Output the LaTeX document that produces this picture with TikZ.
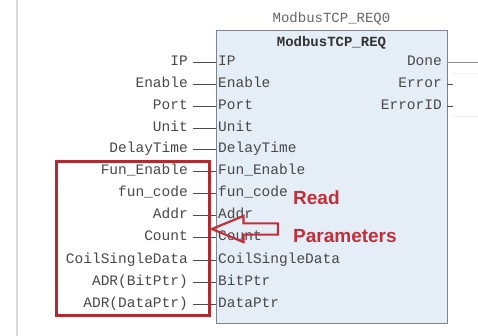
\documentclass[tikz,border=0pt]{standalone}
\usepackage{fontspec}
\setmainfont{Liberation Sans}
\setsansfont{Liberation Sans}
\setmonofont{Liberation Mono}
\usepackage{tikz}
\usetikzlibrary{arrows.meta,calc,positioning,shapes.arrows}
\definecolor{blockfill}{HTML}{E5EDF7}
\definecolor{blockline}{HTML}{7D838B}
\definecolor{labelgray}{HTML}{484848}
\definecolor{notered}{HTML}{C0303A}
\definecolor{framered}{HTML}{B02A30}
\tikzset{
  fb block/.style={draw=blockline,fill=blockfill,line width=0.8pt,
    inner sep=0pt,anchor=north west},
  fb title/.style={font=\ttfamily\bfseries\fontsize{14}{16}\selectfont,
    text=black!80,inner sep=0pt},
  fb instance/.style={font=\ttfamily\fontsize{14}{16}\selectfont,
    text=black!60,inner sep=0pt},
  pin label/.style={font=\ttfamily\fontsize{14.5}{16}\selectfont,
    text=labelgray,inner xsep=2pt,inner ysep=0pt,text height=9pt,
    text depth=2pt,anchor=west},
  var label/.style={pin label,inner xsep=5pt,anchor=east},
  out label/.style={pin label,inner xsep=5pt,anchor=east},
  wire/.style={draw=black!70,line width=0.8pt},
  read frame/.style={draw=framered,line width=2.8pt,inner sep=0pt,
    anchor=north west},
  read arrow/.style={single arrow,draw=notered,line width=2.2pt,
    inner xsep=0pt,inner ysep=4.5pt,single arrow head extend=7.5pt,
    single arrow tip angle=45,shape border rotate=180,anchor=tip},
  note text/.style={font=\sffamily\bfseries\fontsize{19}{22}\selectfont,
    text=notered,anchor=base west,inner sep=0pt}
}
\begin{document}
\begin{tikzpicture}[x=1pt,y=-1pt]
  \useasboundingbox (0,0) rectangle (478,336);
  % page edge and faint grid on the right
  \draw[gray!30,line width=1.5pt] (17,0) -- (17,336);
  \draw[gray!12,line width=0.6pt] (453,73) -- (478,73);
  \draw[gray!12,line width=0.6pt] (453,116) -- (478,116);
  % function block
  \node[fb block,minimum width=231pt,minimum height=293pt] (fb) at (216,30) {};
  \node[fb instance] (fbname) at (331.5,19) {ModbusTCP\_REQ0};
  \node[fb title] (fbtitle) at (331.5,43) {ModbusTCP\_REQ};
  % inputs
  \foreach \y/\pin/\var [count=\i] in {62/IP/IP,84/Enable/Enable,
      106/Port/Port,128/Unit/Unit,149/DelayTime/DelayTime,
      171/Fun\_Enable/Fun\_Enable,193/fun\_code/fun\_code,
      215/Addr/Addr,237/Count/Count,
      260/CoilSingleData/CoilSingleData,
      282/BitPtr/ADR(BitPtr),304/DataPtr/ADR(DataPtr)} {
    \node[pin label] (pin\i) at (216,\y) {\pin};
    \node[var label] (var\i) at (193,\y) {\var};
    \draw[wire] (var\i) -- (pin\i);
  }
  % outputs
  \node[out label] (outdone) at (447,62) {Done};
  \node[out label] (outerror) at (447,84) {Error};
  \node[out label] (outerrorid) at (447,106) {ErrorID};
  \coordinate (doneend) at (478,62);
  \coordinate (errorend) at (453,84);
  \coordinate (erroridend) at (453,106);
  \draw[wire,draw=black!45] (outdone.east) -- (doneend);
  \draw[wire] (outerror.east) -- (errorend);
  \draw[wire] (outerrorid.east) -- (erroridend);
  % read parameters
  \node[read frame,minimum width=153pt,minimum height=154pt] (readframe)
    at (55,160) {};
  \node[read arrow,minimum height=66pt] (readarrow) at (209,229) {};
  \node[note text] (readtext) at (293,205) {Read};
  \node[note text] (paramtext) at (293,242) {Parameters};
\end{tikzpicture}
\end{document}
